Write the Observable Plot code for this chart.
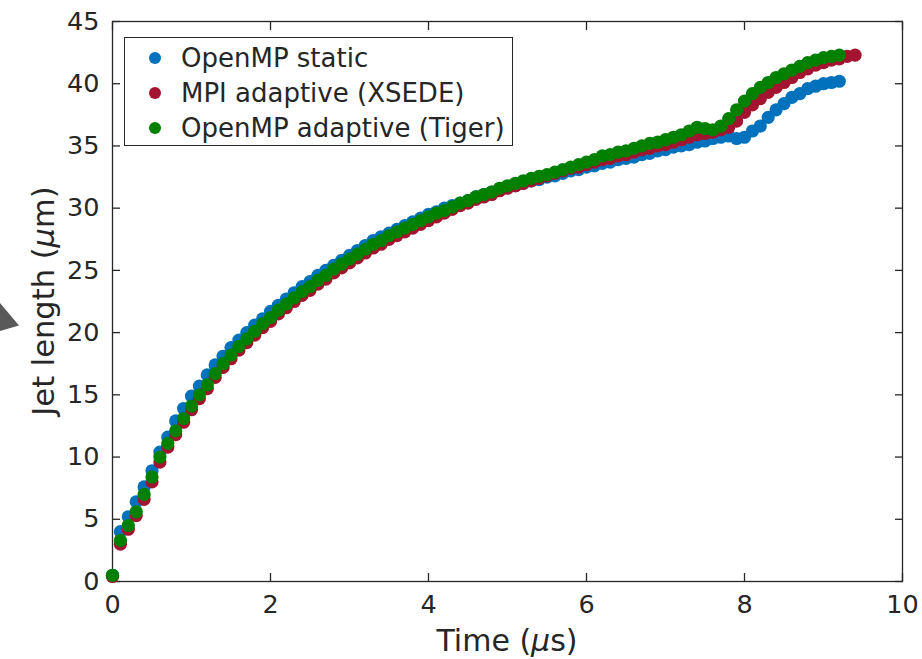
<!DOCTYPE html>
<html>
<head>
<meta charset="utf-8">
<script src="https://cdn.jsdelivr.net/npm/d3@7"></script>
<script src="https://cdn.jsdelivr.net/npm/@observablehq/plot@0.6"></script>
<style>
  html, body { margin: 0; padding: 0; background: #ffffff; }
  #wrap { position: relative; width: 922px; height: 659px; font-family: "DejaVu Sans", sans-serif; color: #262626; overflow: hidden; }
  #legend { position: absolute; left: 124px; top: 37px; width: 389px; height: 109px; border: 1.3px solid #262626; background: #ffffff; box-sizing: border-box; }
  .entry { position: absolute; left: 0; height: 34px; display: flex; align-items: center; font-size: 26px; white-space: nowrap; }
  .sw { width: 12px; height: 12px; border-radius: 50%; margin-left: 24px; margin-right: 20px; }
  #tri { position: absolute; left: 0; top: 303px; width: 19px; height: 28px; background: #595959; clip-path: polygon(0 0, 100% 80%, 0 100%); }
</style>
</head>
<body>
<div id="wrap"></div>
<script>
// ---- data ----
const time = [0.0,0.1,0.2,0.3,0.4,0.5,0.6,0.7,0.8,0.9,
  1.0,1.1,1.2,1.3,1.4,1.5,1.6,1.7,1.8,1.9,
  2.0,2.1,2.2,2.3,2.4,2.5,2.6,2.7,2.8,2.9,
  3.0,3.1,3.2,3.3,3.4,3.5,3.6,3.7,3.8,3.9,
  4.0,4.1,4.2,4.3,4.4,4.5,4.6,4.7,4.8,4.9,
  5.0,5.1,5.2,5.3,5.4,5.5,5.6,5.7,5.8,5.9,
  6.0,6.1,6.2,6.3,6.4,6.5,6.6,6.7,6.8,6.9,
  7.0,7.1,7.2,7.3,7.4,7.5,7.6,7.7,7.8,7.9,
  8.0,8.1,8.2,8.3,8.4,8.5,8.6,8.7,8.8,8.9,
  9.0,9.1,9.2,9.3,9.4];

const openmpStatic = [0.5,4.0,5.2,6.4,7.6,8.9,10.4,11.6,12.9,13.9,
  14.9,15.7,16.6,17.4,18.1,18.8,19.4,20.0,20.6,21.1,
  21.7,22.2,22.7,23.2,23.7,24.1,24.6,25.0,25.4,25.8,
  26.2,26.6,27.0,27.4,27.7,28.0,28.3,28.6,28.9,29.2,
  29.5,29.7,30.0,30.2,30.4,30.6,30.9,31.1,31.3,31.5,
  31.7,31.8,32.0,32.2,32.3,32.5,32.6,32.8,33.0,33.1,
  33.3,33.4,33.6,33.7,33.9,34.0,34.1,34.3,34.4,34.6,
  34.7,34.9,35.0,35.1,35.3,35.4,35.6,35.7,35.8,35.6,
  35.7,36.2,36.6,37.3,37.9,38.4,38.9,39.2,39.6,39.8,
  40.0,40.1,40.2];

const mpiAdaptive = [0.4,3.0,4.2,5.3,6.6,8.0,9.6,10.8,11.8,12.8,
  13.8,14.7,15.5,16.4,17.2,17.9,18.6,19.2,19.8,20.4,
  20.9,21.5,22.0,22.5,23.0,23.4,23.9,24.3,24.8,25.2,
  25.6,26.0,26.4,26.8,27.1,27.5,27.8,28.1,28.4,28.7,
  29.0,29.3,29.6,29.9,30.2,30.4,30.7,30.9,31.1,31.4,
  31.6,31.8,32.0,32.2,32.4,32.6,32.8,33.0,33.2,33.3,
  33.5,33.7,33.9,34.0,34.2,34.3,34.5,34.7,34.8,35.0,
  35.1,35.3,35.5,35.7,35.9,36.0,36.1,36.3,36.5,37.0,
  37.7,38.3,38.8,39.3,39.7,40.1,40.5,40.9,41.2,41.5,
  41.7,41.9,42.0,42.2,42.3];

const openmpAdaptive = [0.5,3.3,4.5,5.6,7.0,8.4,10.0,11.1,12.1,13.1,
  14.1,15.0,15.8,16.7,17.5,18.2,18.9,19.5,20.1,20.7,
  21.2,21.8,22.3,22.8,23.3,23.7,24.2,24.6,25.1,25.5,
  25.9,26.3,26.7,27.1,27.4,27.8,28.1,28.4,28.7,29.0,
  29.3,29.6,29.8,30.1,30.4,30.6,30.9,31.1,31.3,31.6,
  31.8,32.0,32.2,32.4,32.55,32.7,32.9,33.1,33.3,33.5,
  33.7,33.9,34.2,34.3,34.5,34.6,34.8,35.0,35.2,35.3,
  35.5,35.7,35.9,36.2,36.5,36.4,36.3,36.6,37.2,37.9,
  38.6,39.2,39.7,40.1,40.5,40.8,41.1,41.4,41.7,41.9,
  42.1,42.2,42.3];

const seriesNames = ["OpenMP static", "MPI adaptive (XSEDE)", "OpenMP adaptive (Tiger)"];
const seriesColors = ["#0072BD", "#A2142F", "#008000"];
const xTicks = [0, 2, 4, 6, 8, 10];
const yTicks = [0, 5, 10, 15, 20, 25, 30, 35, 40, 45];
const xLabelMain = "Time (", xLabelUnit = "\u03BC", xLabelEnd = "s)";
const yLabelMain = "Jet length (", yLabelUnit = "\u03BC", yLabelEnd = "m)";

// ---- build table ----
const seriesValues = [openmpStatic, mpiAdaptive, openmpAdaptive];
const rows = [];
seriesValues.forEach((vals, s) => {
  vals.forEach((v, i) => rows.push({t: time[i], v, series: seriesNames[s]}));
});

const ink = "#262626";
const chart = Plot.plot({
  width: 922,
  height: 659,
  marginTop: 21,
  marginRight: 20,
  marginBottom: 78,
  marginLeft: 112,
  style: {fontFamily: "DejaVu Sans, sans-serif", fontSize: "25.5px", color: ink, background: "#ffffff", overflow: "visible"},
  x: {domain: [0, 10]},
  y: {domain: [0, 45]},
  color: {domain: seriesNames, range: seriesColors},
  marks: [
    Plot.frame({stroke: ink, strokeWidth: 1.3}),
    Plot.axisX({anchor: "bottom", ticks: xTicks, tickSize: -8, tickPadding: 21, label: null, stroke: ink, fill: ink, strokeWidth: 1.3}),
    Plot.axisX({anchor: "top", ticks: xTicks, tickSize: -8, tickFormat: () => "", label: null, stroke: ink, strokeWidth: 1.3}),
    Plot.axisY({anchor: "left", ticks: yTicks, tickSize: -8, tickPadding: 21, label: null, stroke: ink, fill: ink, strokeWidth: 1.3}),
    Plot.axisY({anchor: "right", ticks: yTicks, tickSize: -8, tickFormat: () => "", label: null, stroke: ink, strokeWidth: 1.3}),
    Plot.dot(rows, {x: "t", y: "v", fill: "series", r: 6.6, stroke: null})
  ]
});

// axis titles (with italic mu), positioned from the scales
const sx = chart.scale("x"), sy = chart.scale("y");
const svg = d3.select(chart);
const xt = svg.append("text")
  .attr("x", (sx.range[0] + sx.range[1]) / 2)
  .attr("y", 651)
  .attr("text-anchor", "middle")
  .attr("fill", ink)
  .style("font-size", "30px");
xt.append("tspan").text(xLabelMain);
xt.append("tspan").attr("font-style", "italic").text(xLabelUnit);
xt.append("tspan").text(xLabelEnd);

const yt = svg.append("text")
  .attr("transform", `translate(54,${(sy.range[0] + sy.range[1]) / 2}) rotate(-90)`)
  .attr("text-anchor", "middle")
  .attr("fill", ink)
  .style("font-size", "30.5px");
yt.append("tspan").text(yLabelMain);
yt.append("tspan").attr("font-style", "italic").text(yLabelUnit);
yt.append("tspan").text(yLabelEnd);

const wrap = document.getElementById("wrap");
wrap.appendChild(chart);

// legend inside the axes box
const legend = document.createElement("div");
legend.id = "legend";
seriesNames.forEach((name, i) => {
  const e = document.createElement("div");
  e.className = "entry";
  e.style.top = (3 + i * 35) + "px";
  const sw = document.createElement("span");
  sw.className = "sw";
  sw.style.background = seriesColors[i];
  const tx = document.createElement("span");
  tx.textContent = name;
  e.appendChild(sw);
  e.appendChild(tx);
  legend.appendChild(e);
});
wrap.appendChild(legend);

const tri = document.createElement("div");
tri.id = "tri";
wrap.appendChild(tri);
</script>
</body>
</html>
